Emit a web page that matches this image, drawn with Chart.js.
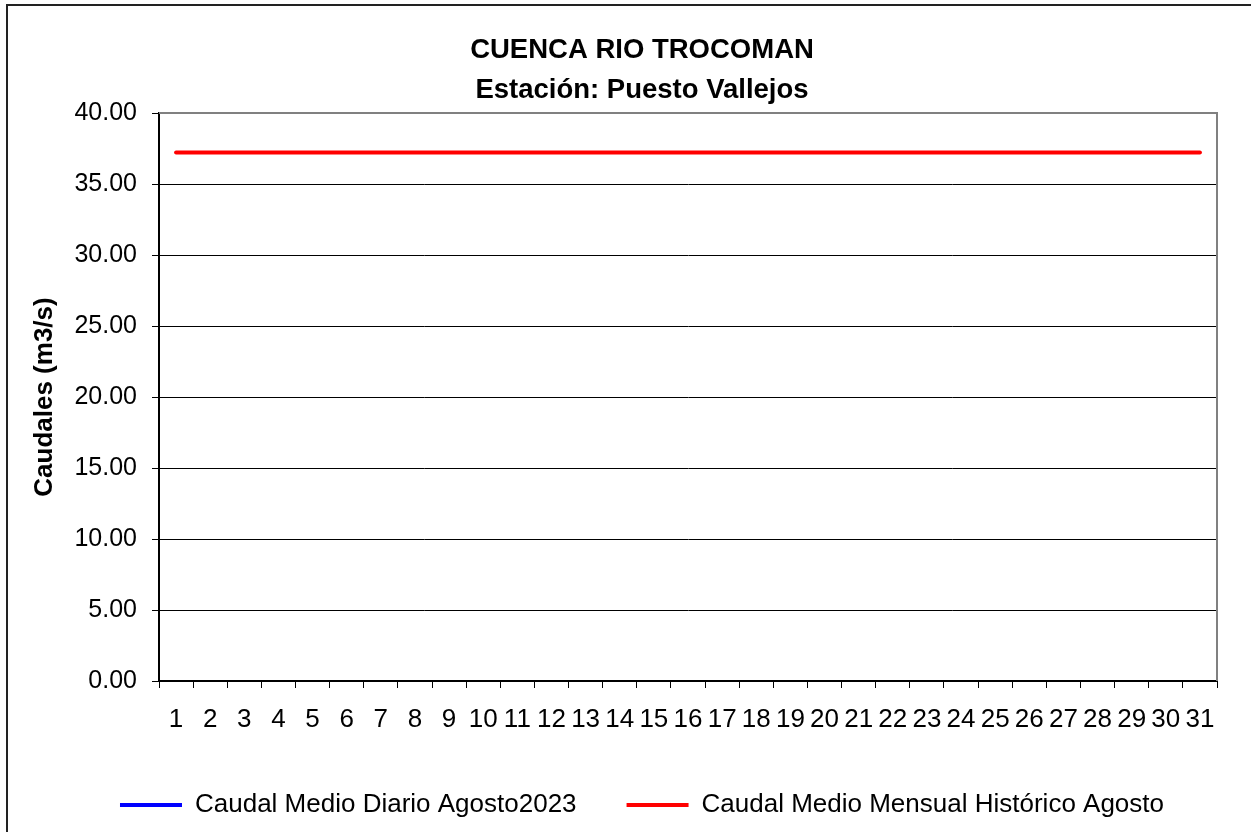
<!DOCTYPE html>
<html>
<head>
<meta charset="utf-8">
<script src="https://cdn.jsdelivr.net/npm/chart.js@4"></script>
<style>
  body { margin: 0; background: #fff; }
  #wrap { width: 1251px; height: 832px; position: relative; }
</style>
</head>
<body>
<div id="wrap"><canvas id="caudales"></canvas></div>
<script>
// dias del mes
var dias = ['1','2','3','4','5','6','7','8','9','10','11','12','13','14','15','16',
            '17','18','19','20','21','22','23','24','25','26','27','28','29','30','31'];
// caudal medio diario agosto 2023 (sin datos en el grafico)
var caudal_diario = [];
// caudal medio mensual historico agosto
var caudal_historico = [37.22,37.22,37.22,37.22,37.22,37.22,37.22,37.22,37.22,37.22,
                        37.22,37.22,37.22,37.22,37.22,37.22,37.22,37.22,37.22,37.22,
                        37.22,37.22,37.22,37.22,37.22,37.22,37.22,37.22,37.22,37.22,37.22];
var y_min = 0, y_max = 40, y_paso = 5;

var fuente = 'Liberation Sans, Arial, sans-serif';

// marco exterior y borde gris superior/derecho del area de trazado
var marco = {
  id: 'marco',
  afterDraw: function(chart) {
    var ctx = chart.ctx;
    var a = chart.chartArea;
    ctx.save();
    ctx.strokeStyle = '#808080';
    ctx.lineWidth = 2;
    ctx.beginPath();
    ctx.moveTo(a.left, a.top);
    ctx.lineTo(a.right, a.top);
    ctx.lineTo(a.right, a.bottom);
    ctx.stroke();
    ctx.strokeStyle = '#222';
    ctx.lineWidth = 2;
    ctx.strokeRect(7, 5, 1400, 1000);
    ctx.restore();
  }
};

var ctx = document.getElementById('caudales').getContext('2d');
var grafico = new Chart(ctx, {
  type: 'line',
  data: {
    labels: dias,
    datasets: [{
      label: 'Caudal Medio Diario Agosto2023',
      data: caudal_diario,
      borderColor: '#0000ff',
      backgroundColor: '#0000ff',
      borderWidth: 4,
      pointRadius: 0
    }, {
      label: 'Caudal Medio Mensual Histórico Agosto',
      data: caudal_historico,
      borderColor: '#ff0000',
      backgroundColor: '#ff0000',
      borderWidth: 4,
      borderCapStyle: 'round',
      pointRadius: 0
    }]
  },
  options: {
    responsive: true,
    maintainAspectRatio: false,
    animation: false,
    layout: { padding: { left: 33, right: 0, top: 0, bottom: 4 } },
    plugins: {
      title: {
        display: true,
        text: ['CUENCA RIO TROCOMAN', 'Estación: Puesto Vallejos'],
        color: '#000',
        font: { family: fuente, size: 27.5, weight: 'bold', lineHeight: 1.455 },
        padding: { top: 30, bottom: 3 }
      },
      legend: {
        position: 'bottom',
        maxHeight: 92,
        labels: {
          color: '#000',
          font: { family: fuente, size: 26 },
          usePointStyle: true,
          pointStyle: 'line',
          pointStyleWidth: 62,
          padding: 50
        }
      },
      tooltip: { enabled: false }
    },
    scales: {
      x: {
        offset: true,
        afterFit: function(scale) { scale.height = 61; },
        grid: {
          offset: true,
          drawOnChartArea: false,
          drawTicks: true,
          tickLength: 7,
          color: '#000'
        },
        border: { color: '#000', width: 2 },
        ticks: {
          color: '#000',
          font: { family: fuente, size: 26 },
          padding: 16,
          autoSkip: false,
          maxRotation: 0
        }
      },
      y: {
        min: y_min,
        max: y_max,
        afterFit: function(scale) { scale.width = 126; },
        grid: { color: '#000', lineWidth: 1, tickLength: 7 },
        border: { color: '#000', width: 2 },
        ticks: {
          stepSize: y_paso,
          color: '#000',
          padding: 15,
          font: { family: fuente, size: 25 },
          callback: function(v) { return v.toFixed(2); }
        },
        title: {
          display: true,
          text: 'Caudales (m3/s)',
          color: '#000',
          font: { family: fuente, size: 26, weight: 'bold' },
          padding: { top: -4, bottom: 0 }
        }
      },
      y2: {
        position: 'right',
        min: y_min,
        max: y_max,
        afterFit: function(scale) { scale.width = 34; },
        grid: { drawOnChartArea: false, drawTicks: false },
        border: { display: false },
        ticks: { display: false }
      }
    }
  },
  plugins: [marco]
});
</script>
</body>
</html>
